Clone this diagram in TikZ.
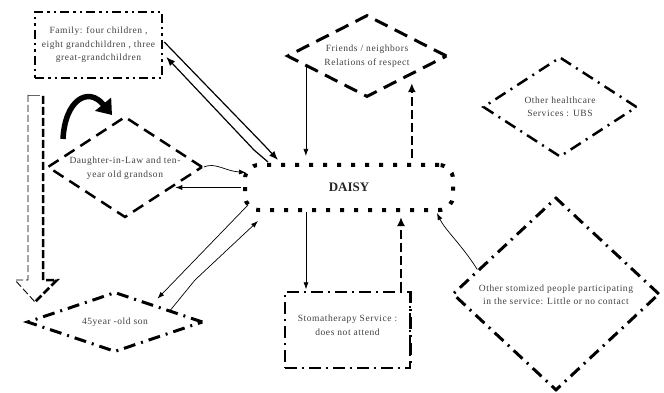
\documentclass[tikz,border=0pt]{standalone}
\usepackage{fontspec}
\setmainfont{Liberation Serif}
\usetikzlibrary{shapes.geometric,arrows.meta,calc}
\begin{document}
\begin{tikzpicture}[x=1pt,y=-1pt,
  txt/.style={font=\fontsize{9.5}{13.5}\selectfont\addfontfeature{LetterSpace=6}, text=black!75, align=center, inner sep=0pt},
  arr/.style={-{Latex[length=7pt,width=5pt]}, line width=0.7pt},
  famline/.style={draw, line width=2.5pt, dash pattern=on 9pt off 4pt on 2.5pt off 4pt on 2.5pt off 4pt},
  friendline/.style={draw, line width=3pt, dash pattern=on 14pt off 8pt},
  daughterline/.style={draw, line width=2.5pt, dash pattern=on 12pt off 7pt},
  dotline/.style={line width=2.5pt, dash pattern=on 12pt off 6pt on 2pt off 6pt},
  stomaline/.style={draw, line width=1.3pt, dash pattern=on 12pt off 5pt on 2pt off 5pt},
  daisyline/.style={draw, line width=4pt, dash pattern=on 4pt off 10pt, rounded corners=14pt},
  dia/.style={diamond, inner sep=0pt}
]
\useasboundingbox (0,0) rectangle (664,393);

% nodes
\node[rectangle, famline, minimum width=127pt, minimum height=66pt] (fam) at (98.5,45) {};
\node[txt] (famT) at (fam) {Family: four children ,\\eight grandchildren , three\\great-grandchildren};

\node[dia, friendline, minimum width=160pt, minimum height=82pt] (friends) at (367,56) {};
\node[txt] (friendsT) at (friends) {Friends / neighbors\\Relations of respect};

\node[dia, draw, dotline, minimum width=154pt, minimum height=100pt] (health) at (560,107) {};
\node[txt] (healthT) at (health) {Other healthcare\\Services : UBS};

\node[dia, daughterline, minimum width=155pt, minimum height=101pt] (daughter) at (125,167) {};
\node[txt] (daughterT) at (125,168) {Daughter-in-Law and ten-\\year old grandson};

\node[rectangle, daisyline, minimum width=208pt, minimum height=45pt] (daisy) at (349,187.5) {};
\node[font=\fontsize{13}{15}\selectfont\bfseries, text=black!85, inner sep=0pt] (daisyT) at (daisy) {DAISY};

\node[dia, draw, dotline, line width=3pt, minimum width=176pt, minimum height=60pt] (son) at (115,322) {};
\node[txt] (sonT) at (son) {45year -old son};

\node[rectangle, stomaline, minimum width=125pt, minimum height=76pt] (stoma) at (347.5,330) {};
\node[txt] (stomaT) at (347.5,325) {Stomatherapy Service :\\does not attend};
\draw[dotline] (stoma.north east) -- (stoma.south east);

\node[dia, draw, dotline, line width=3pt, minimum width=207pt, minimum height=193pt] (stomized) at (556,294) {};
\node[txt] (stomizedT) at (556,295) {Other stomized people participating\\in the service: Little or no contact};

% left block arrow
\draw[black!60, line width=0.8pt] (28,95) -- (40,95);
\draw[line width=0.9pt, dash pattern=on 7pt off 3pt] (28,95) -- (28,280) -- (15,280) -- (35,302);
\draw[line width=2.5pt, dash pattern=on 8pt off 3pt] (43,96) -- (43,280) -- (57,280) -- (35,302);

% thick curved arrow
\draw[line width=5.5pt, -{Triangle[length=14pt,width=20pt]}] (63,139) .. controls (65,100) and (88,86) .. (112,115);

% family <-> daisy
\draw[line width=1.2pt, -{Latex[length=9pt,width=7pt]}] ($(fam.east)+(1,-3)$) -- (264,145) -- ($(daisy.north west)+(35,-3)$);
\draw[line width=1.2pt, -{Latex[length=9pt,width=7pt]}] ($(daisy.north west)+(25,-1)$) -- (254,150) -- ($(fam.east)+(3,12)$);

% friends <-> daisy
\coordinate (fr1) at ($(friends.west)!0.25!(friends.south)$);
\draw[arr, shorten >=7pt] (fr1) -- (fr1 |- daisy.north);
\coordinate (fr2) at ($(friends.south)!0.55!(friends.east)$);
\draw[line width=2.5pt, dash pattern=on 9pt off 4pt, -{Latex[length=9pt,width=8pt]}, shorten >=8pt, shorten <=5pt] (fr2 |- daisy.north) -- (fr2);

% daughter <-> daisy
\draw[arr] (daughter.east) .. controls (215,162) and (225,171) .. ($(daisy.west)+(3,-15)$);
\coordinate (dl1) at ($(daughter.east)!0.4!(daughter.south)$);
\draw[arr, shorten >=3pt, shorten <=2pt] (daisy.west) -- (daisy.west -| dl1);

% son <-> daisy
\coordinate (so1) at ($(son.north)!0.42!(son.east)$);
\draw[arr, shorten >=7pt] ($(daisy.south west)+(5,-7)$) -- (so1);
\coordinate (so2) at ($(son.north)!0.62!(son.east)$);
\draw[arr] (so2) -- (195,280) -- ($(daisy.south west)+(15,9)$);

% stoma <-> daisy
\draw[arr, shorten >=2pt] (daisy.south -| 306,0) -- (stoma.north -| 306,0);
\draw[line width=2.5pt, dash pattern=on 9pt off 4pt, -{Latex[length=9pt,width=8pt]}, shorten >=5pt] (stoma.north -| 401,0) -- (daisy.south -| 401,0);

% stomized -> daisy
\coordinate (st1) at ($(stomized.west)!0.25!(stomized.north)$);
\draw[arr] (st1) .. controls (462,245) and (445,230) .. ($(daisy.south east)+(-18,1)$);

\end{tikzpicture}
\end{document}
